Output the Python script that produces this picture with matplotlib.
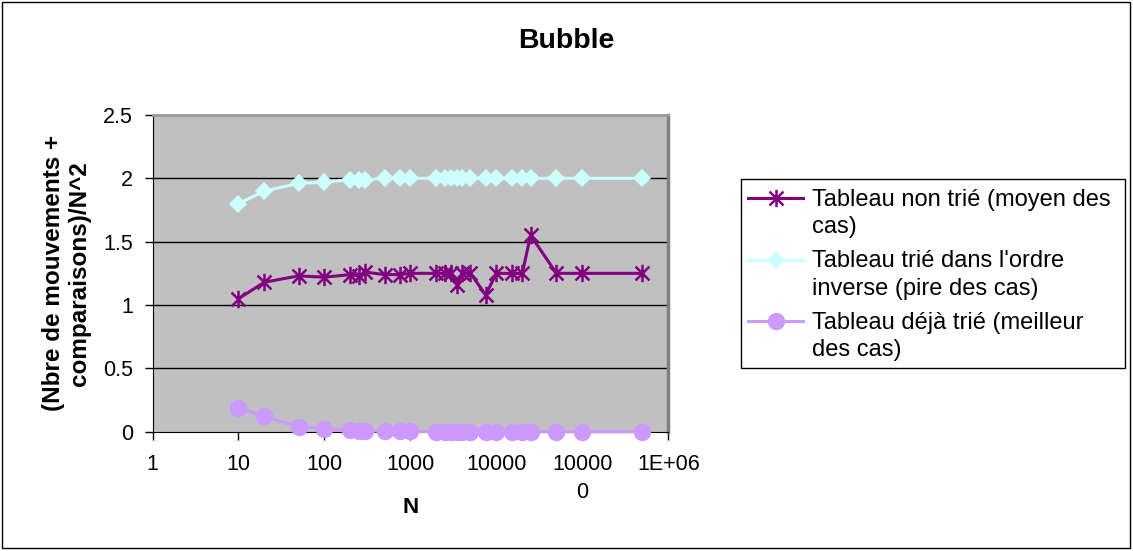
import matplotlib.pyplot as plt
from matplotlib.path import Path
from matplotlib.lines import Line2D
from matplotlib.patches import Rectangle
from matplotlib.ticker import FixedLocator, FixedFormatter, NullLocator

plt.rcParams["font.family"] = ["Liberation Sans", "DejaVu Sans"]

# array sizes N
n_values = [10, 20, 50, 100, 200, 250, 300, 500, 750, 1000,
            2000, 2500, 3000, 3500, 4000, 5000, 7500,
            10000, 15000, 20000, 25000, 50000, 100000, 500000]

# (moves + comparisons) / N^2
avg_case = [1.05, 1.18, 1.23, 1.22, 1.24, 1.23, 1.26, 1.24, 1.24, 1.25,
            1.25, 1.25, 1.25, 1.16, 1.25, 1.25, 1.08,
            1.25, 1.25, 1.25, 1.55, 1.25, 1.25, 1.25]
worst_case = [1.80, 1.90, 1.96, 1.97, 1.99, 1.99, 1.99, 2.0, 2.0, 2.0,
              2.0, 2.0, 2.0, 2.0, 2.0, 2.0, 2.0,
              2.0, 2.0, 2.0, 2.0, 2.0, 2.0, 2.0]
best_case = [0.19, 0.12, 0.04, 0.025, 0.01, 0.008, 0.007, 0.004, 0.003, 0.002,
             0.001, 0.001, 0.001, 0.001, 0.0, 0.0, 0.0,
             0.0, 0.0, 0.0, 0.0, 0.0, 0.0, 0.0]

labels = ["Tableau non trié (moyen des\ncas)",
          "Tableau trié dans l'ordre\ninverse (pire des cas)",
          "Tableau déjà trié (meilleur\ndes cas)"]

x_ticks = [1, 10, 100, 1000, 10000, 100000, 1000000]
x_tick_labels = ["1", "10", "100", "1000", "10000", "10000\n0", "1E+06"]
y_ticks = [0, 0.5, 1, 1.5, 2, 2.5]
y_tick_labels = ["0", "0.5", "1", "1.5", "2", "2.5"]

purple = "#800080"
cyan = "#CCFFFF"
lilac = "#CC99FF"

# excel-style star: an X with a vertical bar
star = Path([(-1, -1), (1, 1), (-1, 1), (1, -1), (0, -1.25), (0, 1.25)],
            [Path.MOVETO, Path.LINETO, Path.MOVETO, Path.LINETO,
             Path.MOVETO, Path.LINETO])

W, H = 1133, 551
fig = plt.figure(figsize=(W / 100, H / 100), dpi=100)


def fx(px):
    return px / W


def fy(py):
    return 1 - py / H


ax = fig.add_axes([fx(152.5), fy(431.7), (668.3 - 152.5) / W, (431.7 - 115) / H])
ax.set_facecolor("#C0C0C0")

styles = [
    dict(color=purple, marker=star, markersize=12.5, markeredgewidth=1.8, lw=2.2),
    dict(color=cyan, marker="D", markersize=9.5, markeredgewidth=0, lw=2.2),
    dict(color=lilac, marker="o", markersize=12.5, markeredgewidth=0, lw=2.2),
]
series = [avg_case, worst_case, best_case]

for vals, st in zip(series, styles):
    ax.plot(n_values, vals, clip_on=False, zorder=3, **st)

ax.set_xscale("log")
ax.set_xlim(1, 1e6)
ax.set_ylim(0, 2.5)
ax.xaxis.set_major_locator(FixedLocator(x_ticks))
ax.xaxis.set_major_formatter(FixedFormatter(x_tick_labels))
ax.xaxis.set_minor_locator(NullLocator())
ax.yaxis.set_major_locator(FixedLocator(y_ticks))
ax.yaxis.set_major_formatter(FixedFormatter(y_tick_labels))

for y in [0.5, 1, 1.5, 2]:
    ax.axhline(y, color="black", lw=1, zorder=1)

ax.tick_params(axis="both", direction="out", length=6, width=1, color="black",
               labelsize=15.5)
ax.tick_params(axis="x", pad=10)
ax.tick_params(axis="y", pad=8)
for lab in ax.get_xticklabels():
    lab.set_linespacing(1.45)

ax.spines["left"].set_color("black")
ax.spines["bottom"].set_color("black")
ax.spines["top"].set_color("#999999")
ax.spines["top"].set_linewidth(2)
ax.spines["right"].set_color("#808080")
ax.spines["right"].set_linewidth(2.5)

ax.set_ylabel("(Nbre de mouvements +\ncomparaisons)/N^2", fontsize=17.5,
              fontweight="bold", labelpad=9, linespacing=1.15)
ax.set_xlabel("N", fontsize=16, fontweight="bold")
ax.xaxis.set_label_coords(0.5, -0.205)

fig.text(fx(566), fy(48), "Bubble", fontsize=20.5, fontweight="bold",
         ha="center", va="baseline")

# legend box
fig.add_artist(Rectangle((fx(741), fy(368)), (1125 - 741) / W, (368 - 179) / H,
                         transform=fig.transFigure, facecolor="white",
                         edgecolor="black", lw=1))
baselines = [206, 267.5, 329]
for lab, st, base in zip(labels, styles, baselines):
    cy = fy(base - 8)
    fig.add_artist(Line2D([fx(748), fx(803)], [cy, cy], transform=fig.transFigure,
                          color=st["color"], lw=st["lw"]))
    fig.add_artist(Line2D([fx(775.5)], [cy], transform=fig.transFigure,
                          color=st["color"], marker=st["marker"],
                          markersize=st["markersize"],
                          markeredgewidth=st["markeredgewidth"]))
    first, second = lab.split("\n")
    fig.text(fx(812), fy(base), first, fontsize=17, va="baseline")
    fig.text(fx(812), fy(base + 27), second, fontsize=17, va="baseline")

# outer chart border
fig.add_artist(Rectangle((fx(2), fy(548)), (1130 - 2) / W, (548 - 2) / H,
                         transform=fig.transFigure, fill=False,
                         edgecolor="black", lw=1))

fig.savefig("out.png", dpi=100)
